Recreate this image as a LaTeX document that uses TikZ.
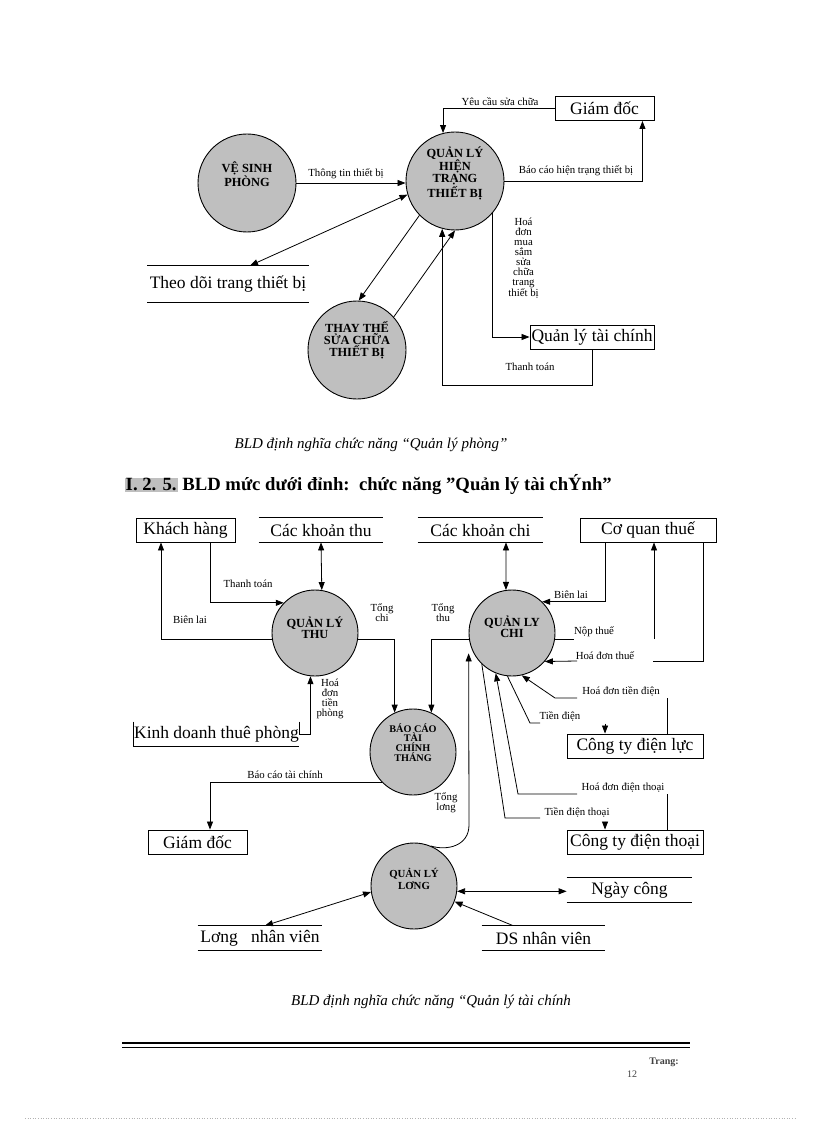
\documentclass[tikz,border=0pt]{standalone}
\usepackage{fontspec}
\setmainfont{Liberation Serif}
\usetikzlibrary{arrows.meta}
\newcommand\storelines[1]{\draw (#1.north west) -- (#1.north east) (#1.south west) -- (#1.south east);}
\tikzset{
  proc/.style={circle,draw,line width=0.9pt,fill=black!25,minimum size=#1,inner sep=0pt},
  ptext/.style={align=center,font=\fontsize{12.4}{10}\selectfont\bfseries},
  box/.style={draw,line width=0.9pt,minimum height=24,inner sep=0pt,font=\fontsize{17.5}{20}\selectfont},
  store/.style={minimum height=24,inner sep=0pt,font=\fontsize{17.5}{20}\selectfont},
  lbl/.style={inner sep=0pt,align=center,font=\fontsize{10.8}{10}\selectfont},
  captext/.style={font=\fontsize{15}{16}\selectfont\itshape},
  >={Triangle[length=8pt,width=6pt]}
}
\begin{document}
\begin{tikzpicture}[x=1pt,y=-1pt,line width=0.8pt]
\useasboundingbox[fill=white] (0,0) rectangle (816,1123);
\node[proc=98,label={[ptext,yshift=9pt]center:VỆ SINH\\PHÒNG}] (vs) at (247,183) {};
\node[proc=98,label={[ptext,yshift=8pt]center:QUẢN LÝ\\HIỆN\\TRẠNG\\THIẾT BỊ}] (hts) at (455,181) {};
\node[proc=98,label={[ptext,yshift=10pt]center:THAY THẾ\\SỬA CHỮA\\THIẾT BỊ}] (tt) at (357,350) {};
\node[box,minimum width=99] (gd) at (604.5,108.5) {Giám đốc};
\node[box,minimum width=124] (qltc) at (592,337) {Quản lý tài chính};
\node[store,minimum width=161,minimum height=36] (tdtb) at (228,284) {Theo dõi trang thiết bị};
\storelines{tdtb}
\draw[->] (gd.west) -| (hts.104);
\node[lbl] (ycsc) at (500,102) {Yêu cầu sửa chữa};
\draw[->] (vs.east) -- (vs.east -| hts.west);
\node[lbl] (tttb) at (346,174) {Thông tin thiết bị};
\draw[->] (hts.east) -| ([xshift=-12pt]gd.south east);
\node[lbl] (bcht) at (576,170.5) {Báo cáo hiện trạng thiết bị};
\draw[<->] (hts.196) -- ([xshift=22pt]tdtb.north);
\draw[->] (hts.224) -- (tt.88);
\draw[->] (tt.42) -- (hts.270);
\draw[->] (hts.319) |- (qltc.west);
\node[lbl] (hdms) at (523.5,258) {Hoá\\đơn\\mua\\sắm\\sửa\\chữa\\trang\\thiết bị};
\draw[->] (qltc.south) -- ++(0,36) -| (hts.255);
\node[lbl] (ttoan) at (530,367) {Thanh toán};
\node[captext] (cap1) at (371,445) {BLD định nghĩa chức năng “Quản lý phòng”};
\node[anchor=west,font=\fontsize{18.7}{20}\selectfont\bfseries] (head) at (121,485)
  {{\fboxsep=1pt\colorbox{black!25}{I. 2. 5.}} BLD mức dưới đỉnh:\ \ chức năng ”Quản lý tài chÝnh”};
\node[box,minimum width=99] (kh) at (185.5,530) {Khách hàng};
\node[store,minimum width=124] (ckt) at (321,530) {Các khoản thu};
\storelines{ckt}
\node[store,minimum width=125] (ckc) at (480.5,530) {Các khoản chi};
\storelines{ckc}
\node[box,minimum width=136] (cqt) at (648,530) {Cơ quan thuế};
\node[proc=86,label={[ptext,yshift=5pt]center:QUẢN LÝ\\THU}] (thu) at (315,633) {};
\node[proc=86,label={[ptext,yshift=6pt]center:QUẢN LY\\CHI}] (chi) at (512,633) {};
\node[proc=86,label={[ptext,yshift=9.5pt,font=\fontsize{10.2}{8.5}\selectfont\bfseries]center:BÁO CÁO\\TÀI\\CHÍNH\\THÁNG}] (bc) at (413,752) {};
\node[proc=86,label={[ptext,yshift=7pt,font=\fontsize{10.8}{12}\selectfont\bfseries]center:QUẢN LÝ\\LƠNG}] (luong) at (414,886) {};
\node[store,minimum width=161] (kd) at (216.5,734) {Kinh doanh thuê phòng};
\draw (kd.north west) -- (kd.south west) -- (kd.south east);
\node[box,minimum width=99] (gd2) at (197.5,842) {Giám đốc};
\node[box,minimum width=136] (cdl) at (635,746) {Công ty điện lực};
\node[box,minimum width=136] (ctdt) at (635,842) {Công ty điện thoại};
\node[store,minimum width=124] (lnv) at (260,938) {Lơng\ \ \ nhân viên};
\storelines{lnv}
\node[store,minimum width=125] (ngc) at (629.5,890) {Ngày công};
\storelines{ngc}
\node[store,minimum width=123] (dsnv) at (543.5,938) {DS nhân viên};
\storelines{dsnv}
\draw[->] ([xshift=24.5pt]kh.south) |- (thu.136);
\node[lbl] (tt2) at (248,584) {Thanh toán};
\draw[->] (thu.188) -| ([xshift=-24.5pt]kh.south);
\node[lbl] (bl1) at (190,620) {Biên lai};
\draw[<->] (ckt.south) -- (thu.81);
\draw[->] (thu.352) -| (bc.115);
\node[lbl] (tchi) at (382,612.5) {Tổng\\chi};
\draw[->] (kd.north east) -- ++(0,13) -| (thu.264);
\node[lbl] (hdtp) at (330,699) {Hoá\\đơn\\tiền\\phòng};
\draw[->] (chi.188) -| (bc.65);
\node[lbl] (tthu) at (443,613) {Tổng\\thu};
\draw[<->] ([xshift=25.5pt]ckc.south) -- (chi.98);
\draw[->] ([xshift=-43pt]cqt.south) |- (chi.46);
\node[lbl] (bl2) at (571,595) {Biên lai};
\node[lbl] (npt) at (594,632) {Nộp thuế};
\coordinate (nptR) at ([xshift=6pt]cqt.south);
\draw (chi.352) -- (chi.352 -| npt.west);
\draw[->] (nptR |- chi.352) -- (nptR);
\node[lbl] (hdt) at (605,655.5) {Hoá đơn thuế};
\coordinate (hdtR) at (653,661);
\coordinate (hdtL) at (577,661);
\draw ([xshift=55pt]cqt.south) |- (hdtR);
\draw[->] (hdtL) -- (chi.319);
\node[lbl] (hdtd) at (621,691) {Hoá đơn tiền điện};
\coordinate (hdtdL) at (577,698);
\draw ([xshift=32pt]cdl.north) -- ++(0,-36);
\draw[->] (hdtdL) -- (555,698) -- (chi.283);
\node[lbl] (tdien) at (560,716) {Tiền điện};
\draw (chi.264) -- (530,723) -- (540,723);
\draw[->] ([xshift=-30pt,yshift=10pt]cdl.north) -- ([xshift=-30pt]cdl.north);
\node[lbl] (hddt) at (623,788) {Hoá đơn điện thoại};
\coordinate (hddtL) at (577,794);
\draw ([xshift=32pt]ctdt.north) -- ++(0,-36);
\draw[->] (hddtL) -- (518,794) -- (chi.248);
\node[lbl] (tdt) at (577,812) {Tiền điện thoại};
\draw (chi.226) -- (505,818) -- (540,818);
\draw[->] ([xshift=-30pt,yshift=8pt]ctdt.north) -- ([xshift=-30pt]ctdt.north);
\draw[->] (luong.67) .. controls (447,851) and (469,846) .. (469,825) -- ([xshift=-5pt]chi.208);
\node[lbl] (tluong) at (446,803) {Tổng\\lơng};
\draw[->] (bc.224) -| ([xshift=12.5pt]gd2.north);
\node[lbl] (bctc) at (285,775) {Báo cáo tài chính};
\draw[<->] (luong.188) -- ([xshift=5pt]lnv.north);
\draw[<->] (luong.353) -- (ngc.west |- luong.353);
\draw[->] ([xshift=-30.5pt]dsnv.north) -- (luong.339);
\node[captext] (cap2) at (431,1002) {BLD định nghĩa chức năng “Quản lý tài chính};
\draw[line width=2pt] (122,1043) -- (690,1043);
\draw (122,1047.5) -- (690,1047.5);
\node[font=\fontsize{10}{10}\selectfont\bfseries,text=black!75] (trang) at (664,1062) {Trang:};
\node[font=\fontsize{10}{10}\selectfont,text=black!75] (sotrang) at (632,1074) {12};
\draw[black!30,dotted,line width=0.6pt] (25,1118) -- (797,1118);
\end{tikzpicture}
\end{document}
